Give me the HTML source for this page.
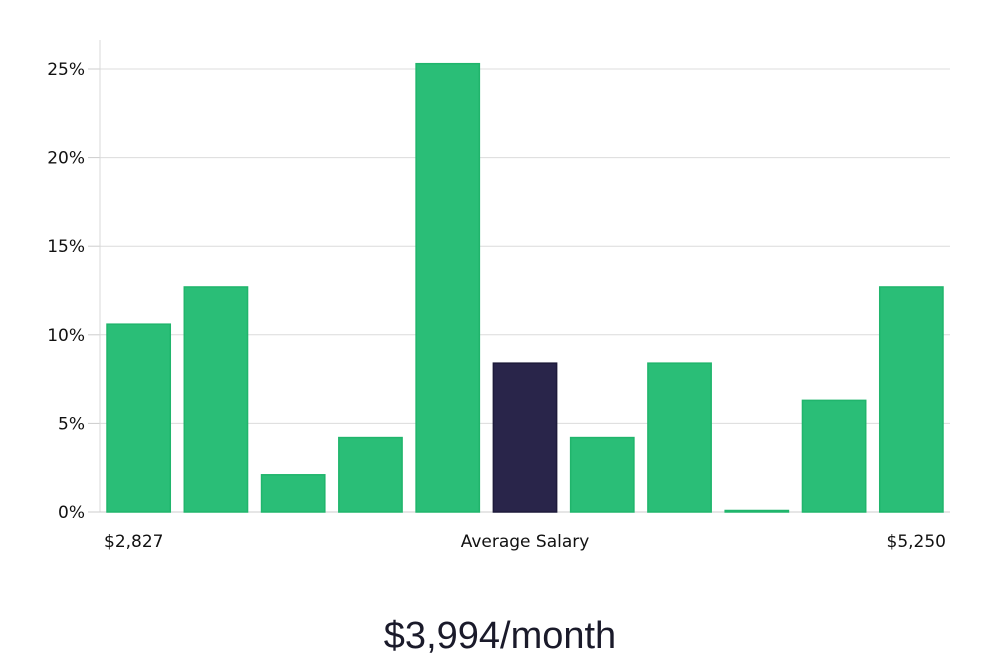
<!DOCTYPE html>
<html><head><meta charset="utf-8"><style>
body{margin:0;background:#fff;width:1000px;height:660px;overflow:hidden;font-family:"DejaVu Sans","Liberation Sans",sans-serif}
</style></head><body>
<svg id="chart" width="1000" height="660" xmlns="http://www.w3.org/2000/svg"></svg>
<script>
const values=[10.6,12.7,2.1,4.2,25.3,8.4,4.2,8.4,0,6.3,12.7];
const highlight=[false,false,false,false,false,true,false,false,false,false,false];
const yTicks=[0,5,10,15,20,25];
const yTickLabels=["0%","5%","10%","15%","20%","25%"];
const xLabels=["$2,827","Average Salary","$5,250"];
const titleText="$3,994/month";

const svg=document.getElementById('chart');
const NS='http://www.w3.org/2000/svg';
const L=100,R=950,B=512,T=69,maxV=25;
const y=v=>B-(v/maxV)*(B-T);
const step=(R-L)/values.length;
const x=i=>L+i*step;
function mk(tag,attrs,txt){const e=document.createElementNS(NS,tag);for(const k in attrs)e.setAttribute(k,attrs[k]);if(txt!=null)e.textContent=txt;svg.appendChild(e);return e;}

yTicks.forEach((t,i)=>{
  if(t>0){const g=mk('line',{x1:L,x2:R,y1:y(t),y2:y(t),stroke:'#dcdcdc','stroke-width':1});
  
  }
  const tk=mk('line',{x1:L-12,x2:L,y1:y(t),y2:y(t),stroke:'#ccc','stroke-width':1});
  
  
  const lb=mk('text',{x:85,y:y(t)+6,'text-anchor':'end','font-size':17,fill:'#111'},yTickLabels[i]);
  
  
});
const ax=mk('line',{x1:L,x2:L,y1:40,y2:B,stroke:'#d8d8d8','stroke-width':1});


const xa=mk('line',{x1:L,x2:R,y1:B,y2:B,stroke:'#ccc','stroke-width':1});



values.forEach((v,i)=>{
  const top=Math.min(y(v),B-1.5);
  const b=mk('rect',{x:x(i)+7,y:top,width:step-14,height:B-top,
    fill:highlight[i]?'#29254a':'#2abe77',stroke:highlight[i]?'#1d1a3a':'#20b56c','stroke-width':1.5});
  
  
});

const xl1=mk('text',{x:104,y:547,'font-size':17,fill:'#111'},xLabels[0]);


const xl2=mk('text',{x:525,y:547,'text-anchor':'middle','font-size':17,fill:'#111'},xLabels[1]);


const xl3=mk('text',{x:946,y:547,'text-anchor':'end','font-size':17,fill:'#111'},xLabels[2]);


const tt=mk('text',{x:500,y:648,'text-anchor':'middle','font-size':38,fill:'#1a1a2a','font-family':'"Liberation Sans",sans-serif','font-weight':300},titleText);


</script>
</body></html>
